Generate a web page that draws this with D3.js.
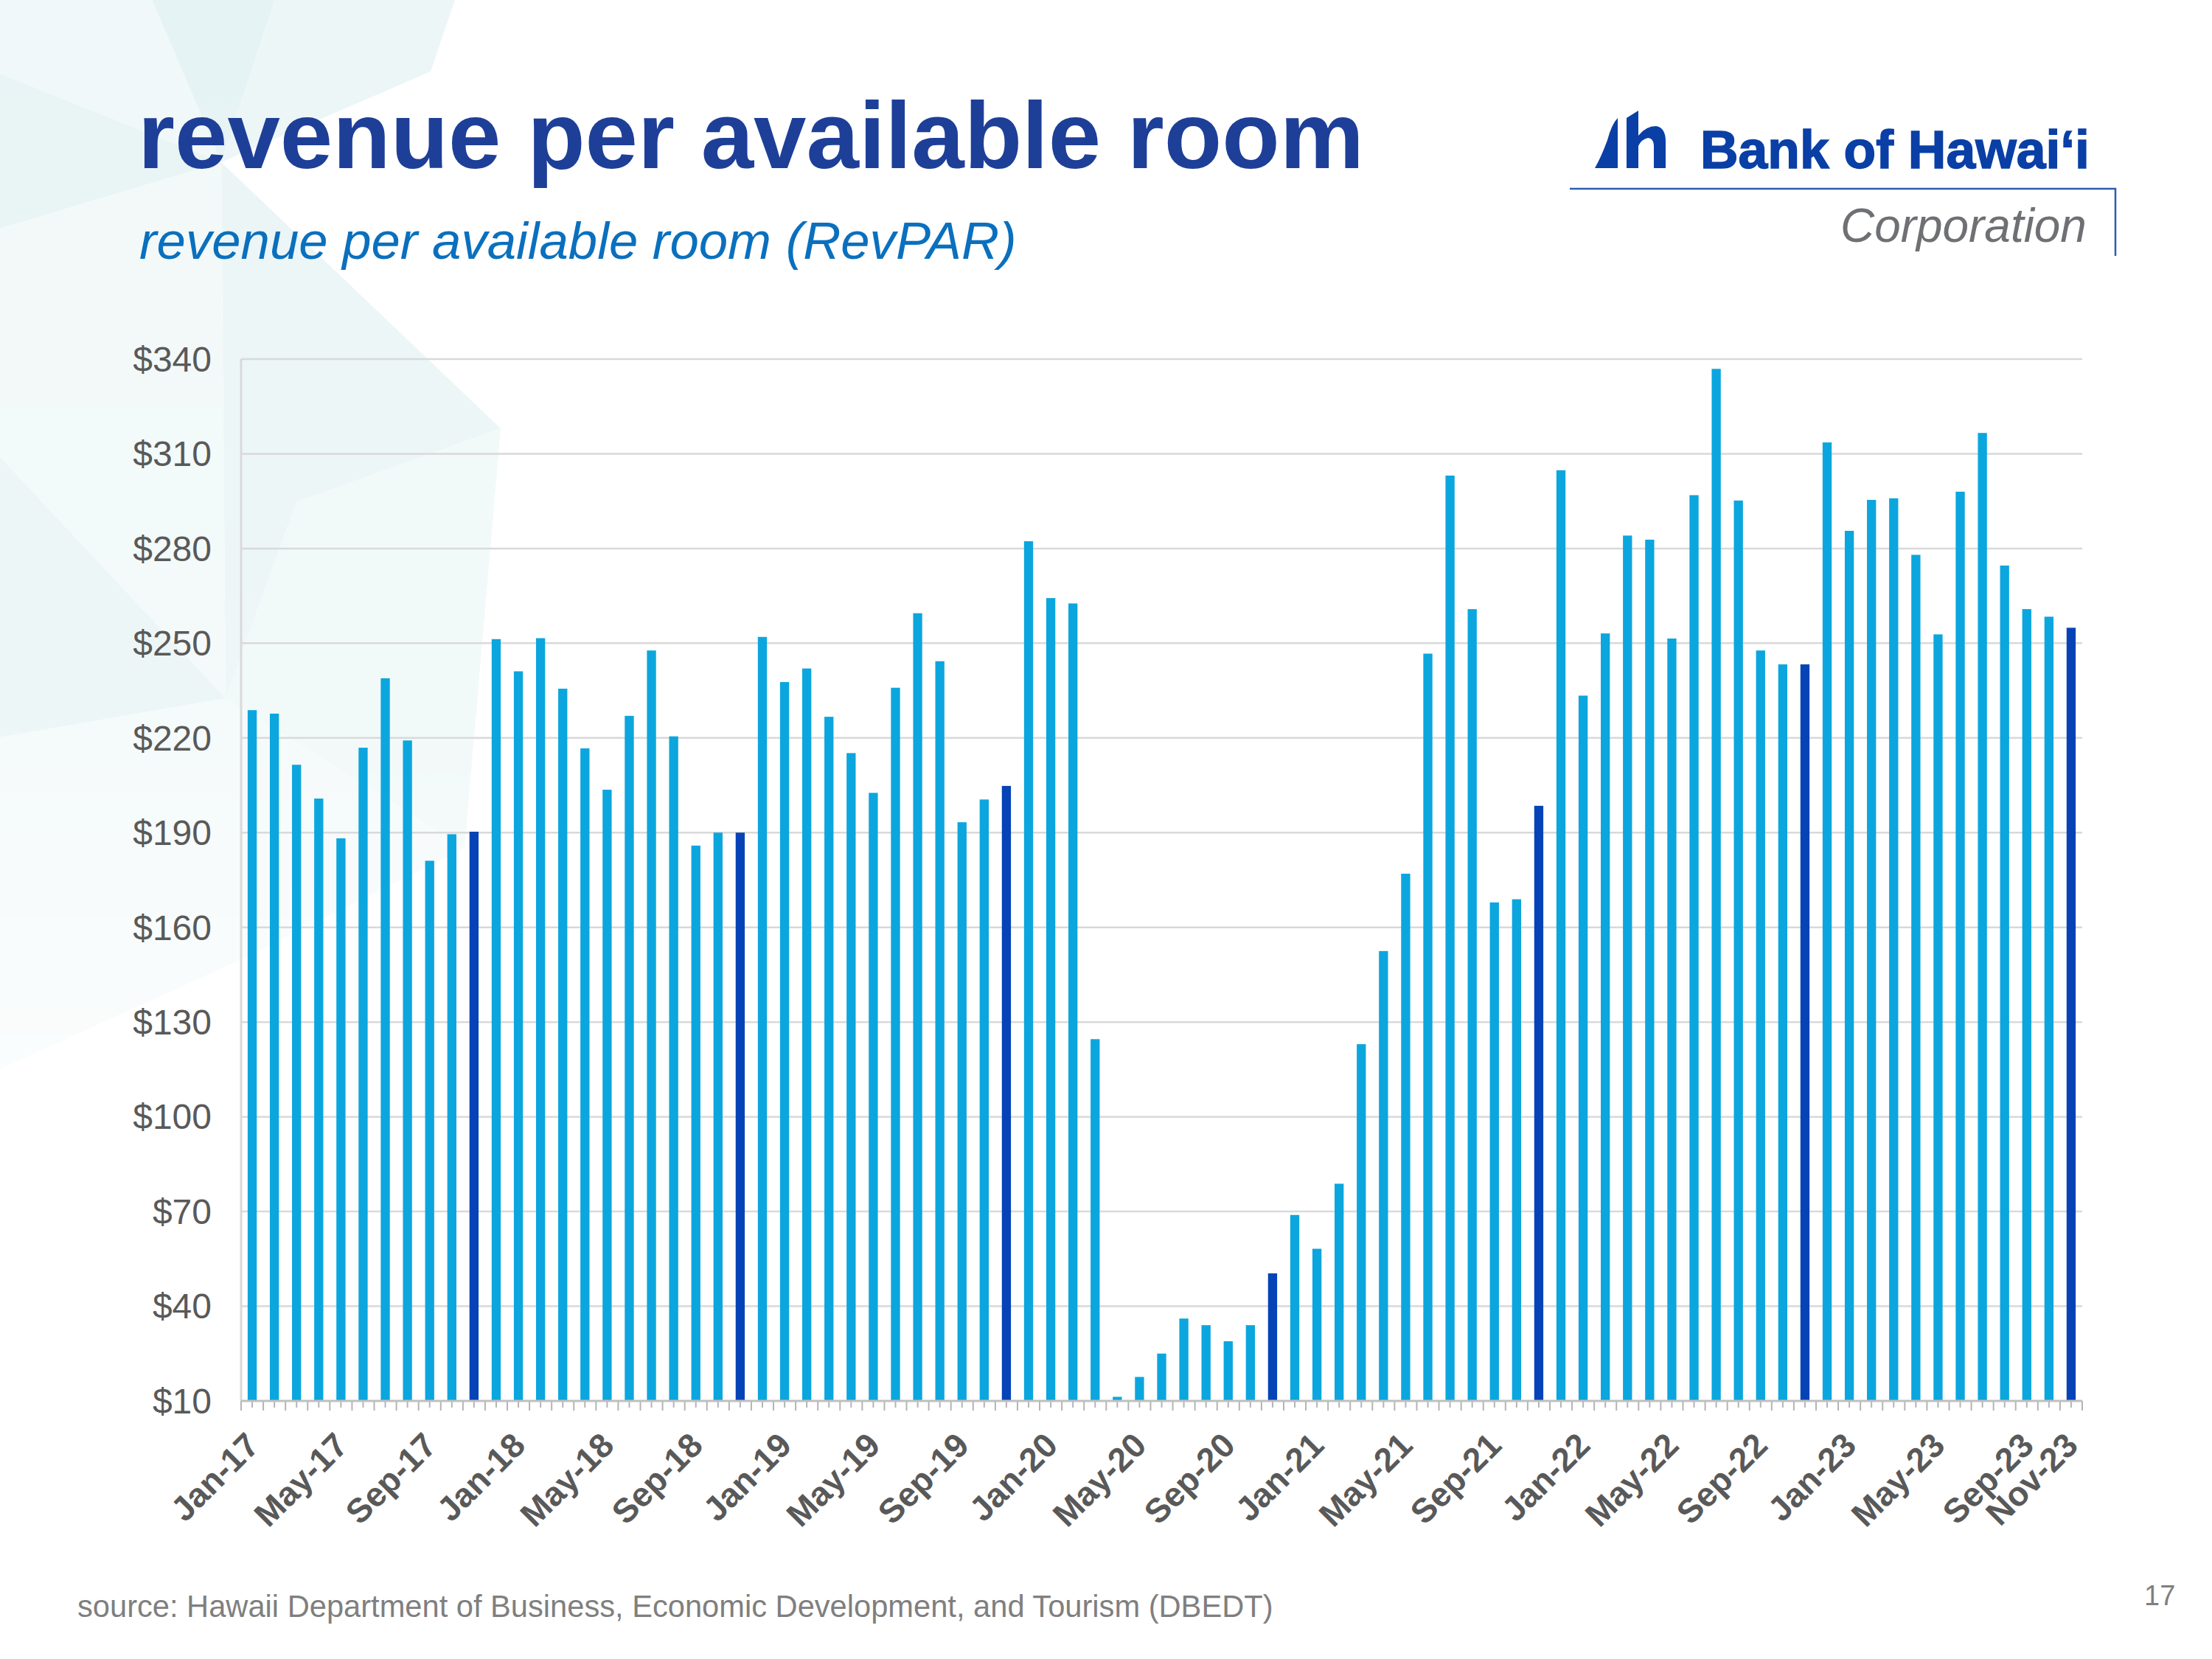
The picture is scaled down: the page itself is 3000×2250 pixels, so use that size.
<!DOCTYPE html>
<html>
<head>
<meta charset="utf-8">
<script src="https://cdn.jsdelivr.net/npm/d3@7"></script>
<style>
  body { margin: 0; background: #fff; }
  svg text { font-family: "Liberation Sans", Arial, sans-serif; }
</style>
</head>
<body>
<div id="chart"></div>
<script>
// monthly categories, Jan-17 .. Nov-23
const months = [
  "Jan-17","Feb-17","Mar-17","Apr-17","May-17","Jun-17","Jul-17","Aug-17","Sep-17","Oct-17","Nov-17","Dec-17",
  "Jan-18","Feb-18","Mar-18","Apr-18","May-18","Jun-18","Jul-18","Aug-18","Sep-18","Oct-18","Nov-18","Dec-18",
  "Jan-19","Feb-19","Mar-19","Apr-19","May-19","Jun-19","Jul-19","Aug-19","Sep-19","Oct-19","Nov-19","Dec-19",
  "Jan-20","Feb-20","Mar-20","Apr-20","May-20","Jun-20","Jul-20","Aug-20","Sep-20","Oct-20","Nov-20","Dec-20",
  "Jan-21","Feb-21","Mar-21","Apr-21","May-21","Jun-21","Jul-21","Aug-21","Sep-21","Oct-21","Nov-21","Dec-21",
  "Jan-22","Feb-22","Mar-22","Apr-22","May-22","Jun-22","Jul-22","Aug-22","Sep-22","Oct-22","Nov-22","Dec-22",
  "Jan-23","Feb-23","Mar-23","Apr-23","May-23","Jun-23","Jul-23","Aug-23","Sep-23","Oct-23","Nov-23"
];

// RevPAR ($)
const revpar = [
  228.8, 227.7, 211.5, 200.8, 188.2, 216.9, 238.9, 219.2, 181.1, 189.5, 190.3, 251.3,
  241.1, 251.6, 235.6, 216.7, 203.6, 227.0, 247.7, 220.5, 185.9, 190.0, 190.0, 252.0,
  237.7, 242.0, 226.7, 215.2, 202.6, 235.9, 259.5, 244.3, 193.3, 200.5, 204.8, 282.3,
  264.3, 262.6, 124.6, 11.3, 17.6, 25.0, 36.1, 34.0, 28.9, 34.0, 50.4, 68.9,
  58.2, 78.8, 123.0, 152.5, 177.0, 246.7, 303.1, 260.8, 167.9, 168.9, 198.5, 304.8,
  233.4, 253.1, 284.1, 282.8, 251.5, 296.9, 336.9, 295.2, 247.7, 243.3, 243.3, 313.6,
  285.6, 295.4, 295.9, 278.0, 252.8, 298.0, 316.6, 274.6, 260.8, 258.4, 254.9
];

// the November bars are drawn in the darker blue
const highlightMonth = "Nov";

const xTickLabels = [
  "Jan-17","May-17","Sep-17","Jan-18","May-18","Sep-18","Jan-19","May-19","Sep-19",
  "Jan-20","May-20","Sep-20","Jan-21","May-21","Sep-21","Jan-22","May-22","Sep-22",
  "Jan-23","May-23","Sep-23","Nov-23"
];
const yTicks = [10, 40, 70, 100, 130, 160, 190, 220, 250, 280, 310, 340];

const width = 3000, height = 2250;
const plot = { left: 327, right: 2824, top: 487, bottom: 1900 };

const svg = d3.select("#chart").append("svg")
  .attr("width", width)
  .attr("height", height)
  .style("display", "block");

svg.append("rect").attr("width", width).attr("height", height).attr("fill", "#fff");

// faint star pattern in the background
const defs = svg.append("defs");
const fade = defs.append("linearGradient").attr("id", "fade")
  .attr("gradientUnits", "userSpaceOnUse")
  .attr("x1", 0).attr("y1", 0).attr("x2", 0).attr("y2", 1800);
fade.append("stop").attr("offset", 0).attr("stop-color", "#fff").attr("stop-opacity", 1);
fade.append("stop").attr("offset", 0.55).attr("stop-color", "#fff").attr("stop-opacity", 0.85);
fade.append("stop").attr("offset", 1).attr("stop-color", "#fff").attr("stop-opacity", 0);
defs.append("mask").attr("id", "bgmask")
  .append("rect").attr("width", 900).attr("height", 1800).attr("fill", "url(#fade)");

const bgShapes = [
  { pts: [[206,0],[373,0],[300,220]], c: "#e6f3f4" },
  { pts: [[373,0],[617,0],[584,97],[300,220]], c: "#edf6f7" },
  { pts: [[0,0],[206,0],[300,220],[0,100]], c: "#f1f8f9" },
  { pts: [[0,100],[300,220],[0,310]], c: "#e8f4f5" },
  { pts: [[300,220],[679,581],[402,681],[306,947]], c: "#ebf5f6" },
  { pts: [[0,310],[300,220],[306,947],[0,620]], c: "#f2f9f9" },
  { pts: [[306,947],[402,681],[679,581],[630,1150]], c: "#f0f8f8" },
  { pts: [[0,620],[306,947],[0,1000]], c: "#eaf5f6" },
  { pts: [[0,1000],[306,947],[630,1150],[330,1300],[0,1450]], c: "#f3f9f9" }
];
svg.append("g").attr("mask", "url(#bgmask)")
  .selectAll("polygon").data(bgShapes).join("polygon")
  .attr("points", d => d.pts.map(p => p.join(",")).join(" "))
  .attr("fill", d => d.c);

// scales
const x = d3.scaleBand()
  .domain(months)
  .range([plot.left, plot.right])
  .paddingInner(0.59)
  .paddingOuter(0.295);
const y = d3.scaleLinear().domain([10, 340]).range([plot.bottom, plot.top]);

// gridlines
svg.append("g").selectAll("line").data(yTicks.filter(d => d > 10)).join("line")
  .attr("x1", plot.left).attr("x2", plot.right)
  .attr("y1", d => y(d)).attr("y2", d => y(d))
  .attr("stroke", "#d9d9d9").attr("stroke-width", 2.5);

// left axis line
svg.append("line")
  .attr("x1", plot.left).attr("x2", plot.left)
  .attr("y1", plot.top).attr("y2", plot.bottom)
  .attr("stroke", "#d9d9d9").attr("stroke-width", 3);

// y labels
svg.append("g").selectAll("text").data(yTicks).join("text")
  .attr("x", 287)
  .attr("y", d => y(d))
  .attr("dy", "0.35em")
  .attr("text-anchor", "end")
  .attr("font-size", 48)
  .attr("fill", "#595959")
  .text(d => "$" + d);

// bars
svg.append("g").selectAll("rect").data(months).join("rect")
  .attr("x", d => x(d))
  .attr("width", x.bandwidth())
  .attr("y", (d, i) => y(revpar[i]))
  .attr("height", (d, i) => y(10) - y(revpar[i]))
  .attr("fill", d => d.startsWith(highlightMonth) ? "#0543b6" : "#0ca6de");

// x axis line + ticks
const step = x.step();
const edges = months.map(d => x(d) - x.paddingInner() * step / 2).concat([plot.right]);
const axis = svg.append("g");
axis.selectAll("line.edge").data(edges).join("line").attr("class", "edge")
  .attr("x1", d => d).attr("x2", d => d)
  .attr("y1", plot.bottom).attr("y2", plot.bottom + 13)
  .attr("stroke", "#b4b4b4").attr("stroke-width", 2);
axis.selectAll("line.mid").data(months).join("line").attr("class", "mid")
  .attr("x1", d => x(d) + x.bandwidth() / 2).attr("x2", d => x(d) + x.bandwidth() / 2)
  .attr("y1", plot.bottom).attr("y2", plot.bottom + 9)
  .attr("stroke", "#b4b4b4").attr("stroke-width", 2);
axis.append("line")
  .attr("x1", plot.left).attr("x2", plot.right)
  .attr("y1", plot.bottom).attr("y2", plot.bottom)
  .attr("stroke", "#bfbfbf").attr("stroke-width", 3);

// x labels
svg.append("g").selectAll("text").data(xTickLabels).join("text")
  .attr("transform", d => `translate(${x(d) + x.bandwidth() / 2 + 12},1963) rotate(-45)`)
  .attr("text-anchor", "end")
  .attr("font-size", 46)
  .attr("font-weight", "bold")
  .attr("fill", "#595959")
  .text(d => d);

// fit a text element to a target width
function fitWidth(sel, w) {
  const len = sel.node().getComputedTextLength();
  const fs = parseFloat(sel.attr("font-size"));
  sel.attr("font-size", fs * w / len);
}

// titles
const title = svg.append("text")
  .attr("x", 187).attr("y", 228)
  .attr("font-size", 128).attr("font-weight", "bold")
  .attr("fill", "#1e3f98")
  .text("revenue per available room");
fitWidth(title, 1663);

const subtitle = svg.append("text")
  .attr("x", 189).attr("y", 351)
  .attr("font-size", 70).attr("font-style", "italic")
  .attr("fill", "#0a70be")
  .text("revenue per available room (RevPAR)");
fitWidth(subtitle, 1190);

const source = svg.append("text")
  .attr("x", 105).attr("y", 2193)
  .attr("font-size", 40)
  .attr("fill", "#7f7f7f")
  .text("source: Hawaii Department of Business, Economic Development, and Tourism (DBEDT)");
fitWidth(source, 1622);

svg.append("text")
  .attr("x", 2908).attr("y", 2177)
  .attr("font-size", 38)
  .attr("fill", "#7f7f7f")
  .text("17");

// logo
const logoBlue = "#0a3fa6";
const logo = svg.append("g");
logo.append("path")
  .attr("d", "M2163,228 L2194,228 L2194,160 Q2186,168 2180,190 Q2172,212 2163,228 Z")
  .attr("fill", logoBlue);
logo.append("path")
  .attr("d", "M2206,228 L2206,160 L2222,150 L2222,184 Q2232,171 2246,171 Q2259,173 2259,192 L2259,228 L2243,228 L2243,197 Q2242,187 2235,187 Q2226,189 2222,198 L2222,228 Z")
  .attr("fill", logoBlue);
const bank = logo.append("text")
  .attr("x", 2306).attr("y", 228)
  .attr("font-family", "'DejaVu Sans', sans-serif")
  .attr("font-weight", "bold")
  .attr("font-size", 68)
  .attr("fill", logoBlue)
  .attr("stroke", logoBlue)
  .attr("stroke-width", 1.5)
  .text("Bank of Hawai\u2018i");
fitWidth(bank, 528);
logo.append("path")
  .attr("d", "M2129,256 L2869,256 L2869,347")
  .attr("fill", "none")
  .attr("stroke", "#2c5cb0")
  .attr("stroke-width", 2.5);
const corp = logo.append("text")
  .attr("x", 2496).attr("y", 328)
  .attr("font-family", "'Open Sans', sans-serif")
  .attr("font-style", "italic")
  .attr("font-weight", 300)
  .attr("font-size", 62)
  .attr("fill", "#6e7073")
  .text("Corporation");
fitWidth(corp, 334);
</script>
</body>
</html>
